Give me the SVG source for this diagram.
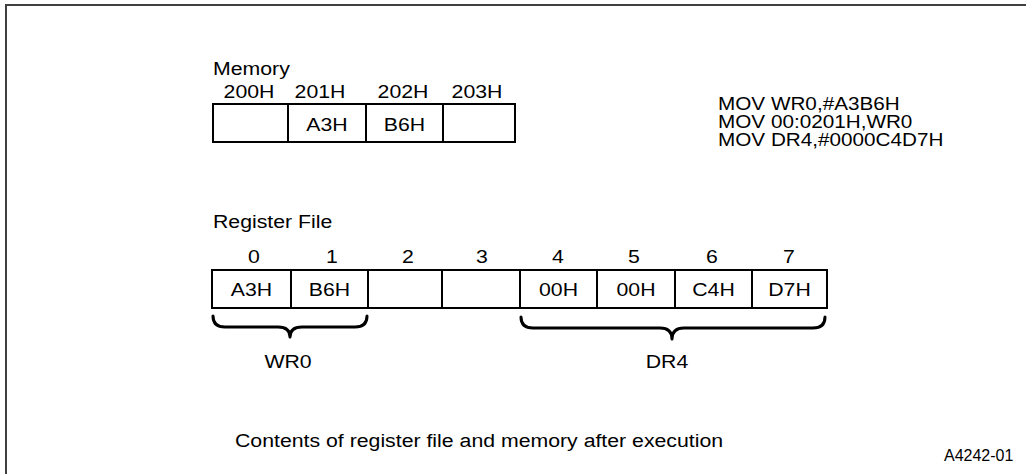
<svg xmlns="http://www.w3.org/2000/svg" width="1026" height="474" viewBox="0 0 1026 474">
<style>
text{font-family:"Liberation Sans",Arial,sans-serif;font-size:19px;fill:#000}
.c{text-anchor:middle}
.box{fill:#fff;stroke:#000;stroke-width:2}
.div{stroke:#000;stroke-width:2}
.brace{fill:none;stroke:#000;stroke-width:3;stroke-linecap:round;stroke-linejoin:round}
.frame{fill:none;stroke:#404040;stroke-width:2}
.id{font-size:16px}
</style>
<rect width="1026" height="474" fill="#fff"/>
<path class="frame" d="M6,474 V5 H1026"/>

<g id="memory">
<text transform="matrix(1.12 0 0 1 213 75)">Memory</text>
<text class="c" transform="matrix(1.12 0 0 1 249 98)">200H</text>
<text class="c" transform="matrix(1.12 0 0 1 320 98)">201H</text>
<text class="c" transform="matrix(1.12 0 0 1 403 98)">202H</text>
<text class="c" transform="matrix(1.12 0 0 1 477 98)">203H</text>
<rect class="box" x="213" y="104" width="302" height="38"/>
<line class="div" x1="288" y1="104" x2="288" y2="142"/>
<line class="div" x1="366" y1="104" x2="366" y2="142"/>
<line class="div" x1="443" y1="104" x2="443" y2="142"/>
<text class="c" transform="matrix(1.12 0 0 1 327 131)">A3H</text>
<text class="c" transform="matrix(1.12 0 0 1 404.5 131)">B6H</text>
</g>

<g id="code">
<text transform="matrix(1.09 0 0 1 718 110)">MOV WR0,#A3B6H</text>
<text transform="matrix(1.09 0 0 1 718 128)">MOV 00:0201H,WR0</text>
<text transform="matrix(1.09 0 0 1 718 146)">MOV DR4,#0000C4D7H</text>
</g>

<g id="register-file">
<text transform="matrix(1.12 0 0 1 213 228)">Register File</text>
<text class="c" transform="matrix(1.12 0 0 1 254 263)">0</text>
<text class="c" transform="matrix(1.12 0 0 1 332 263)">1</text>
<text class="c" transform="matrix(1.12 0 0 1 408 263)">2</text>
<text class="c" transform="matrix(1.12 0 0 1 482 263)">3</text>
<text class="c" transform="matrix(1.12 0 0 1 558 263)">4</text>
<text class="c" transform="matrix(1.12 0 0 1 634 263)">5</text>
<text class="c" transform="matrix(1.12 0 0 1 712 263)">6</text>
<text class="c" transform="matrix(1.12 0 0 1 789 263)">7</text>
<rect class="box" x="212" y="270" width="615" height="38"/>
<line class="div" x1="291" y1="270" x2="291" y2="308"/>
<line class="div" x1="368" y1="270" x2="368" y2="308"/>
<line class="div" x1="442" y1="270" x2="442" y2="308"/>
<line class="div" x1="520" y1="270" x2="520" y2="308"/>
<line class="div" x1="597" y1="270" x2="597" y2="308"/>
<line class="div" x1="675" y1="270" x2="675" y2="308"/>
<line class="div" x1="752" y1="270" x2="752" y2="308"/>
<text class="c" transform="matrix(1.12 0 0 1 251.5 296)">A3H</text>
<text class="c" transform="matrix(1.12 0 0 1 329.5 296)">B6H</text>
<text class="c" transform="matrix(1.12 0 0 1 558.5 296)">00H</text>
<text class="c" transform="matrix(1.12 0 0 1 636 296)">00H</text>
<text class="c" transform="matrix(1.12 0 0 1 713.5 296)">C4H</text>
<text class="c" transform="matrix(1.12 0 0 1 789.5 296)">D7H</text>
</g>

<g id="connectors">
<path class="brace" d="M213,316 Q213,327 225,327 L278,327 Q290,327 290,337 Q290,327 302,327 L355,327 Q367,327 367,316"/>
<path class="brace" d="M521,317 Q521,328 533,328 L660,328 Q672,328 672,339 Q672,328 684,328 L813,328 Q825,328 825,317"/>
</g>

<g id="wr0">
<text class="c" transform="matrix(1.12 0 0 1 288 368)">WR0</text>
</g>
<g id="dr4">
<text class="c" transform="matrix(1.12 0 0 1 667 368)">DR4</text>
</g>

<g id="caption">
<text transform="matrix(1.12 0 0 1 235 447)">Contents of register file and memory after execution</text>
<text class="id" x="944" y="461">A4242-01</text>
</g>
</svg>
